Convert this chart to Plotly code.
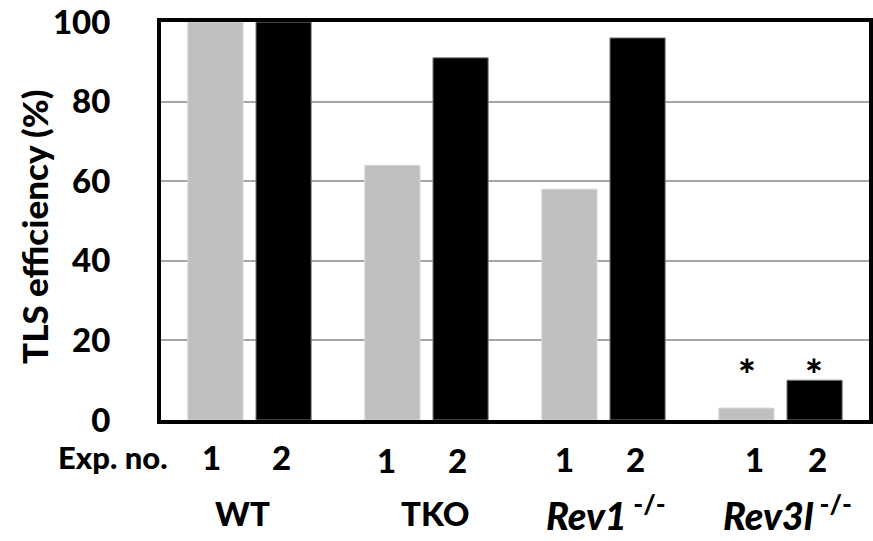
import plotly.graph_objects as go

groups = ["WT", "TKO", "Rev1", "Rev3l"]
group_labels = ["WT", "TKO", "<i>Rev1</i><sup> -/-</sup>", "<i>Rev3l</i><sup> -/-</sup>"]
exp1 = [100, 64, 58, 3]
exp2 = [100, 91, 96, 10]
exp_names = ["1", "2"]
yticks = [0, 20, 40, 60, 80, 100]
star_groups = ["Rev3l"]

FONT = "Lato"
WGT = 900
fig = go.Figure()
fig.add_trace(go.Bar(x=groups, y=exp1, name="1", marker=dict(color="#bfbfbf", line=dict(color="#d9d9d9", width=1))))
fig.add_trace(go.Bar(x=groups, y=exp2, name="2", marker=dict(color="#000000", line=dict(color="#7f7f7f", width=1))))

W, H = 873, 541
L, R, T, B = 161, 4, 22, 121
pw = W - L - R
ph = H - T - B

def f(size):
    return dict(size=size, family=FONT, color="black", weight=WGT)

fig.update_layout(
    width=W, height=H,
    margin=dict(l=L, r=R, t=T, b=B, autoexpand=False),
    plot_bgcolor="white", paper_bgcolor="white",
    barmode="group", bargap=0.23, bargroupgap=0.19,
    showlegend=False,
    font=f(33),
)
fig.update_xaxes(showticklabels=False, showline=True, linecolor="black", linewidth=4, mirror=True,
                 showgrid=False, ticks="", automargin=False)
fig.update_yaxes(range=[0, 100], tickvals=yticks, ticktext=[str(v) for v in yticks],
                 showline=True, linecolor="black", linewidth=4, mirror=True,
                 showgrid=True, gridcolor="#a6a6a6", gridwidth=1.5, zeroline=False,
                 ticks="", ticklabelstandoff=40, tickfont=f(33), automargin=False)

def py(p):
    return (T + ph - p) / ph

def px(p):
    return (p - L) / pw

fig.add_annotation(x=px(34), xref="paper", y=py(227), yref="paper", text="TLS efficiency (%)",
                   textangle=-90, showarrow=False, xanchor="center", yanchor="middle", font=f(35))

off = 0.19
label_y = [457, 460, 459, 459]
num_shift = [[-4, -2], [-6, -3], [-5, -2], [8, 3]]
grp_shift = [-7, 8, 2, 7]
grp_size = [33, 33, 38, 38]
for i, g in enumerate(groups):
    for j, name in enumerate(exp_names):
        fig.add_annotation(x=i + (-off if j == 0 else off), xref="x", y=py(label_y[i]), yref="paper",
                           text=name, showarrow=False, xshift=num_shift[i][j],
                           font=f(33), yanchor="middle")
    fig.add_annotation(x=i, xref="x", y=py(513), yref="paper", text=group_labels[i],
                       showarrow=False, xshift=grp_shift[i], font=f(grp_size[i]), yanchor="middle")
    if g in star_groups:
        for j in range(2):
            fig.add_annotation(x=i + (-off if j == 0 else off), xref="x", y=py(374), yref="paper",
                               text="*", showarrow=False, font=f(42), yanchor="middle")

fig.add_annotation(x=px(170), xref="paper", y=py(457), yref="paper", text="Exp. no.",
                   showarrow=False, xanchor="right", yanchor="middle", font=f(31))

fig.write_html("out.html", post_script="document.body.style.margin='0';",
               config={"displayModeBar": False})
